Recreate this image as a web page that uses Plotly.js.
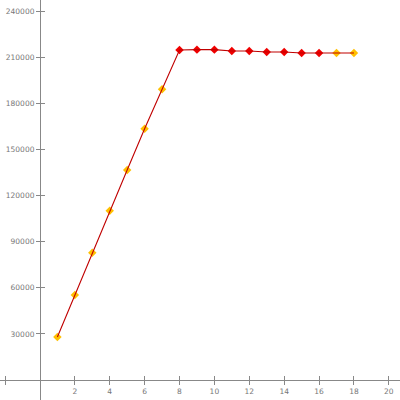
<!DOCTYPE html>
<html>
<head>
<meta charset="utf-8">
<script src="https://cdn.plot.ly/plotly-3.0.1.min.js"></script>
<style>html,body{margin:0;padding:0;background:#fff}#chart{width:400px;height:400px}</style>
</head>
<body>
<div id="chart"></div>
<script>
const xValues = [1,2,3,4,5,6,7,8,9,10,11,12,13,14,15,16,17,18];
const yValues = [28000,55300,82800,110200,136700,163500,189200,214800,215000,215000,214100,214100,213500,213500,212800,212800,212800,212800];
const pointColors = ["#FFC000","#FFC000","#FFC000","#FFC000","#FFC000","#FFC000","#FFC000",
  "#F00000","#F00000","#F00000","#F00000","#F00000","#F00000","#F00000","#F00000","#F00000",
  "#FFC000","#FFC000"];
const xTickVals = [-2,2,4,6,8,10,12,14,16,18,20];
const xTickText = ["","2","4","6","8","10","12","14","16","18","20"];
const yTickVals = [30000,60000,90000,120000,150000,180000,210000,240000];
const yTickText = ["30000","60000","90000","120000","150000","180000","210000","240000"];

const xRange = [-2.29, 20.64];
const yRange = [-13000, 247300];
const xPos = (0 - xRange[0]) / (xRange[1] - xRange[0]);
const yPos = (0 - yRange[0]) / (yRange[1] - yRange[0]);

const axisFont = {family: "DejaVu Sans", size: 7.5, color: "#777"};

const traces = [
  {x: xValues, y: yValues, mode: "markers", type: "scatter",
   marker: {symbol: "diamond", size: 6.5, color: pointColors, line: {width: 0}},
   hoverinfo: "skip", showlegend: false},
  {x: xValues, y: yValues, mode: "lines", type: "scatter",
   line: {color: "#C00000", width: 1.1},
   hoverinfo: "skip", showlegend: false},
  {x: [null], y: [null], xaxis: "x2", yaxis: "y2", mode: "markers", showlegend: false, hoverinfo: "skip"}
];

const baseX = {range: xRange, showgrid: false, zeroline: false, showline: true,
  linecolor: "#888", linewidth: 1, anchor: "free", position: yPos,
  tickmode: "array", tickvals: xTickVals, ticktext: xTickText,
  tickcolor: "#888", ticklen: 4, tickwidth: 1, tickfont: axisFont, fixedrange: true};
const baseY = {range: yRange, showgrid: false, zeroline: false, showline: true,
  linecolor: "#888", linewidth: 1, anchor: "free", position: xPos,
  tickmode: "array", tickvals: yTickVals, ticktext: yTickText,
  tickcolor: "#888", ticklen: 4, tickwidth: 1, tickfont: axisFont, fixedrange: true};

const layout = {
  width: 400, height: 400,
  margin: {l: 0, r: 0, t: 0, b: 0, pad: 0},
  paper_bgcolor: "#fff", plot_bgcolor: "#fff",
  xaxis: Object.assign({}, baseX, {ticks: "outside"}),
  yaxis: Object.assign({}, baseY, {ticks: "outside"}),
  xaxis2: Object.assign({}, baseX, {ticks: "inside", overlaying: "x", showticklabels: false}),
  yaxis2: Object.assign({}, baseY, {ticks: "inside", overlaying: "y", showticklabels: false})
};

Plotly.newPlot("chart", traces, layout, {displayModeBar: false, staticPlot: true});
</script>
</body>
</html>
